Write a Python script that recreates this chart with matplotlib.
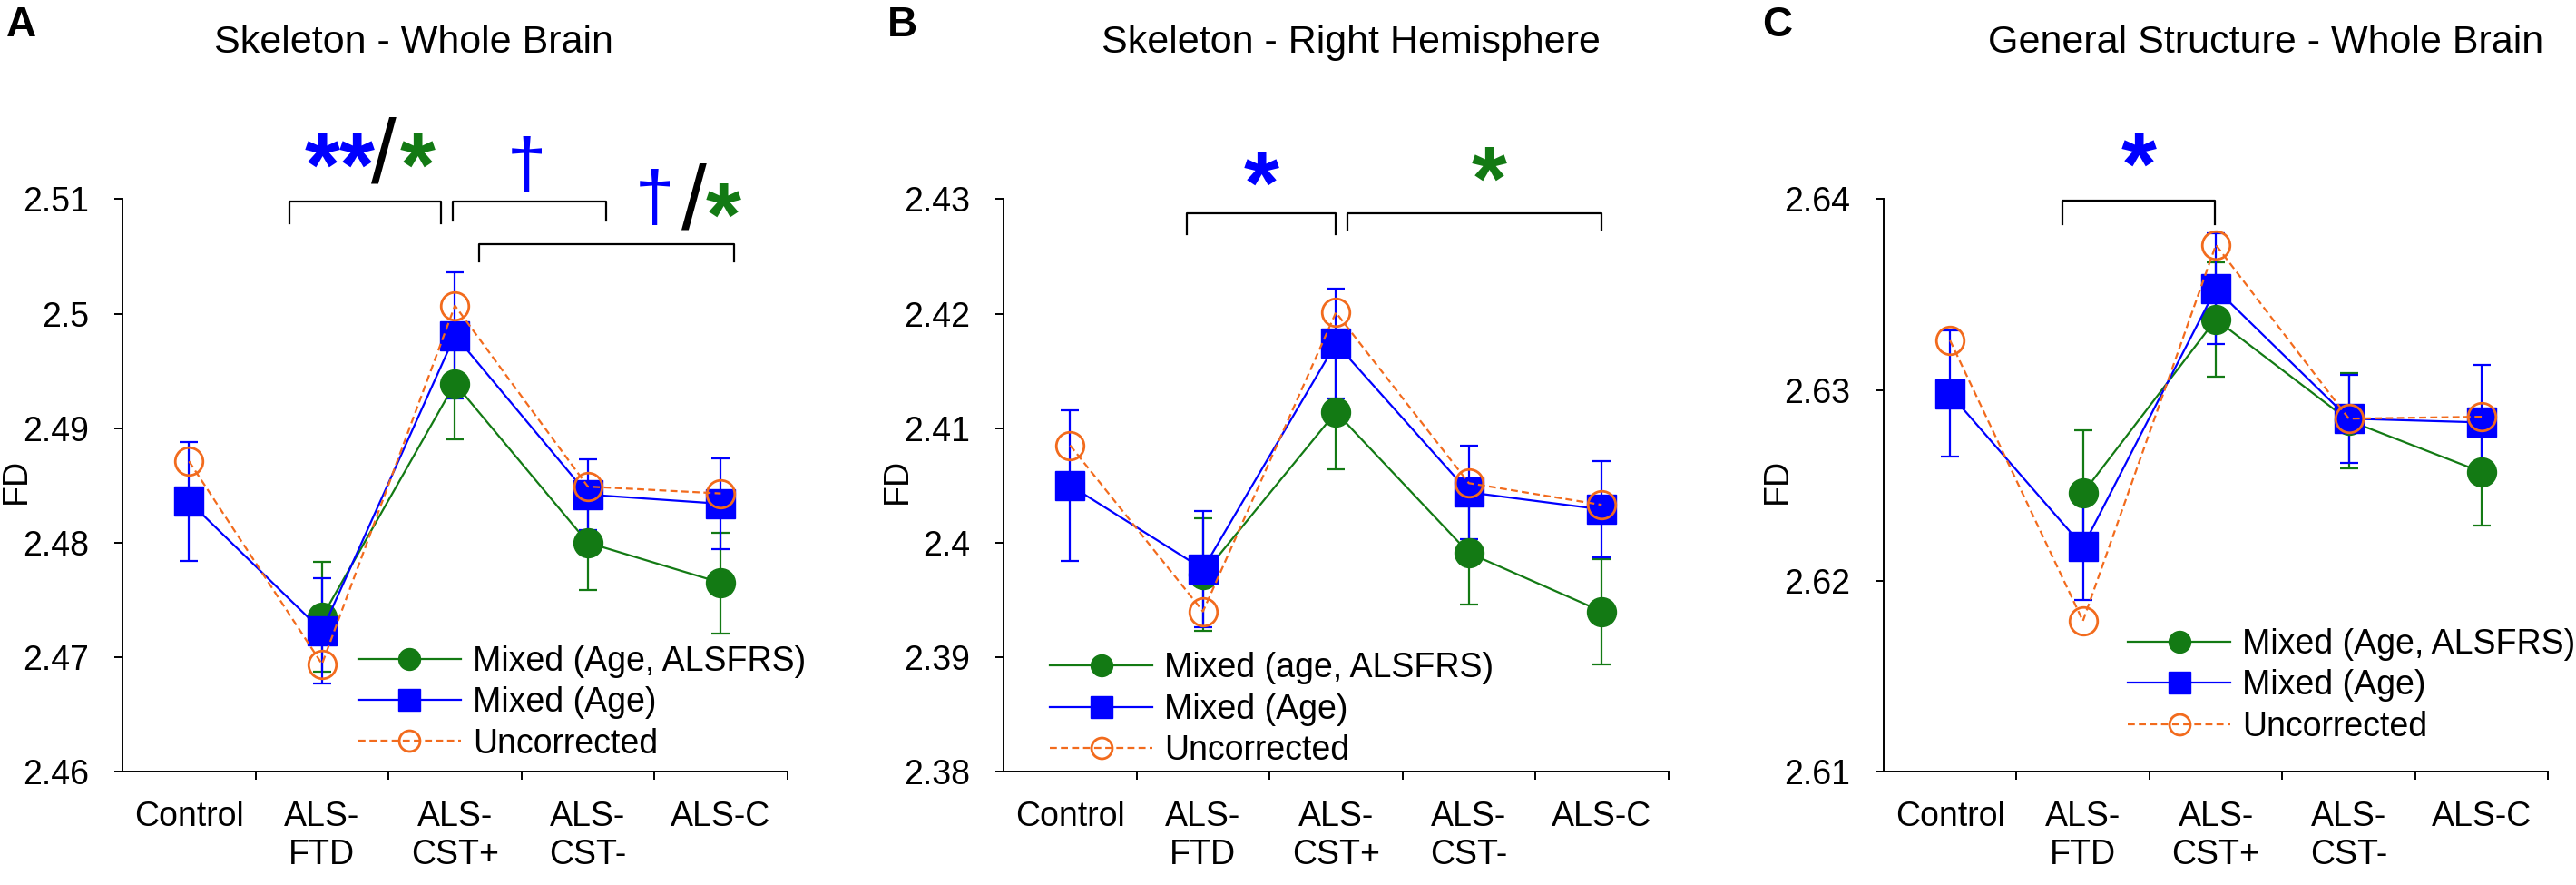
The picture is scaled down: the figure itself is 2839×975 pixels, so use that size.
import numpy as np
import matplotlib
matplotlib.use('Agg')
import matplotlib.pyplot as plt

plt.rcParams['font.family'] = ['Liberation Sans', 'DejaVu Sans']

categories = ['Control', 'ALS-\nFTD', 'ALS-\nCST+', 'ALS-\nCST-', 'ALS-C']
nan = np.nan

# panel A: Skeleton - Whole Brain
a_alsfrs = [nan, 2.4735, 2.4939, 2.4800, 2.4765]
a_alsfrs_err = [nan, 0.0048, 0.0049, 0.0041, 0.0044]
a_age = [2.4836, 2.4723, 2.4981, 2.4842, 2.4834]
a_age_err = [0.0052, 0.0046, 0.0055, 0.0031, 0.0040]
a_unc = [2.4871, 2.4694, 2.5007, 2.4849, 2.4843]

# panel B: Skeleton - Right Hemisphere
b_alsfrs = [nan, 2.3972, 2.4114, 2.3991, 2.3940]
b_alsfrs_err = [nan, 0.0049, 0.0050, 0.0045, 0.0046]
b_age = [2.4050, 2.3977, 2.4174, 2.4044, 2.4029]
b_age_err = [0.0066, 0.0051, 0.0048, 0.0041, 0.0042]
b_unc = [2.4085, 2.3940, 2.4201, 2.4052, 2.4033]

# panel C: General Structure - Whole Brain
c_alsfrs = [nan, 2.6246, 2.6337, 2.6284, 2.6257]
c_alsfrs_err = [nan, 0.0033, 0.0030, 0.0025, 0.0028]
c_age = [2.6298, 2.6218, 2.6353, 2.6285, 2.6283]
c_age_err = [0.0033, 0.0028, 0.0029, 0.0023, 0.0030]
c_unc = [2.6326, 2.6179, 2.6376, 2.6285, 2.6286]

GREEN = '#137a14'
BLUE = '#0000ff'
ORANGE = '#f26b1d'

fig = plt.figure(figsize=(28.39, 9.75), dpi=100)

panels = [
    dict(left=0.0476, ylim=(2.46, 2.51), yt=[2.46, 2.47, 2.48, 2.49, 2.50, 2.51],
         g=a_alsfrs, ge=a_alsfrs_err, b=a_age, be=a_age_err, o=a_unc,
         glabel='Mixed (Age, ALSFRS)', leg=(0.355, 0.02),
         title='Skeleton - Whole Brain', tx=0.1606, letter='A', lx=0.0025),
    dict(left=0.3896, ylim=(2.38, 2.43), yt=[2.38, 2.39, 2.40, 2.41, 2.42, 2.43],
         g=b_alsfrs, ge=b_alsfrs_err, b=b_age, be=b_age_err, o=b_unc,
         glabel='Mixed (age, ALSFRS)', leg=(0.07, 0.008),
         title='Skeleton - Right Hemisphere', tx=0.5245, letter='B', lx=0.3445),
    dict(left=0.7312, ylim=(2.61, 2.64), yt=[2.61, 2.62, 2.63, 2.64],
         g=c_alsfrs, ge=c_alsfrs_err, b=c_age, be=c_age_err, o=c_unc,
         glabel='Mixed (Age, ALSFRS)', leg=(0.368, 0.05),
         title='General Structure - Whole Brain', tx=0.8795, letter='C', lx=0.684),
]

axes = []
x = np.arange(len(categories))
for p in panels:
    ax = fig.add_axes([p['left'], 0.128, 0.258, 0.647])
    axes.append(ax)
    ax.errorbar(x, p['g'], yerr=p['ge'], fmt='none', ecolor=GREEN, elinewidth=1.6,
                capsize=7, capthick=1.6, zorder=2)
    ax.errorbar(x, p['b'], yerr=p['be'], fmt='none', ecolor=BLUE, elinewidth=1.6,
                capsize=7, capthick=1.6, zorder=2)
    ax.plot(x, p['g'], '-o', color=GREEN, lw=1.6, ms=23, label=p['glabel'], zorder=3)
    ax.plot(x, p['b'], '-s', color=BLUE, lw=1.6, ms=23, label='Mixed (Age)', zorder=4)
    ax.plot(x, p['o'], '--o', color=ORANGE, lw=1.6, ms=22, mfc='none', mew=2,
            dashes=(3.5, 2), label='Uncorrected', zorder=5)

    ax.set_xlim(-0.5, 4.5)
    ax.set_ylim(*p['ylim'])
    ax.set_yticks(p['yt'])
    ax.set_yticklabels(['%g' % v for v in p['yt']])
    ax.set_xticks([0.5, 1.5, 2.5, 3.5, 4.5])
    ax.set_xticklabels([])
    ax.set_xticks(x, minor=True)
    ax.set_xticklabels(categories, minor=True)
    ax.tick_params(axis='x', which='major', direction='out', length=6.5, width=1.4)
    ax.tick_params(axis='x', which='minor', length=0, pad=23, labelsize=27)
    ax.tick_params(axis='y', direction='out', length=6.5, width=1.4, pad=20, labelsize=27)
    for s in ['top', 'right']:
        ax.spines[s].set_visible(False)
    for s in ['left', 'bottom']:
        ax.spines[s].set_linewidth(1.4)
    ax.set_ylabel('FD', fontsize=27)
    ax.yaxis.set_label_coords(-0.135, 0.507)

    ax.legend(loc='lower left', bbox_to_anchor=p['leg'], frameon=False, fontsize=27,
              borderpad=0, borderaxespad=0, handlelength=3.0, handletextpad=0.35,
              labelspacing=0.25, markerscale=0.75)

    fig.text(p['tx'], 0.9405, p['title'], fontsize=31, ha='center', va='baseline')
    fig.text(p['lx'], 1 - 6 / 975, p['letter'], fontsize=33, fontweight='bold',
             ha='left', va='top')


def bracket(ax, x0, x1, ytop, ybot):
    ax.plot([x0, x0, x1, x1], [ybot, ytop, ytop, ybot], color='black', lw=1.6,
            clip_on=False, zorder=6)


def mark(ax, xx, yy, s, color, size=72, weight='bold'):
    ax.text(xx, yy, s, color=color, fontsize=size, fontweight=weight,
            ha='center', va='baseline', clip_on=False)


axA, axB, axC = axes
bracket(axA, 0.758, 1.898, 2.5098, 2.5079)
bracket(axA, 1.982, 3.135, 2.5098, 2.5081)
bracket(axA, 2.183, 4.10, 2.5061, 2.5046)
mark(axA, 1.135, 2.5103, '**', BLUE)
mark(axA, 1.462, 2.5114, '/', 'black', 72, 'normal')
mark(axA, 1.722, 2.5103, '*', GREEN)
mark(axA, 2.54, 2.5110, '\u2020', BLUE, 56, 'normal')
mark(axA, 3.504, 2.5081, '\u2020', BLUE, 56, 'normal')
mark(axA, 3.80, 2.5074, '/', 'black', 72, 'normal')
mark(axA, 4.02, 2.5059, '*', GREEN)

bracket(axB, 0.881, 1.998, 2.4288, 2.4269)
bracket(axB, 2.086, 4.0, 2.4288, 2.4273)
mark(axB, 1.437, 2.4287, '*', BLUE)
mark(axB, 3.15, 2.4291, '*', GREEN)

bracket(axC, 0.845, 1.994, 2.6399, 2.6387)
mark(axC, 1.417, 2.6402, '*', BLUE)

fig.savefig('out.png', dpi=100)
